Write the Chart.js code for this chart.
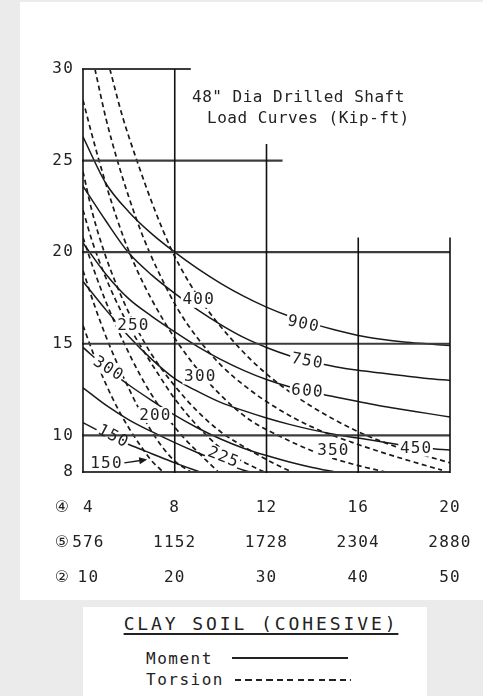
<!DOCTYPE html>
<html>
<head>
<meta charset="utf-8">
<title>48" Dia Drilled Shaft Load Curves</title>
<script src="https://cdn.jsdelivr.net/npm/chart.js@4.4.1/dist/chart.umd.min.js"></script>
<style>
  html, body { margin: 0; padding: 0; }
  body { width: 483px; height: 696px; background: #ebebeb; position: relative; overflow: hidden;
         font-family: "DejaVu Sans Mono", monospace; color: #222; }
  #panel { position: absolute; left: 20px; top: 2px; width: 463px; height: 598px; background: #fff; }
  #legendBox { position: absolute; left: 83px; top: 607px; width: 344px; height: 89px; background: #fff; }
  #legendBox .head { position: absolute; left: 0; top: 6px; width: 100%; padding-left: 12px; box-sizing: border-box;
         text-align: center; font-size: 18px; line-height: 21px; letter-spacing: 2.9px;
         text-decoration: underline; text-decoration-thickness: 1.5px; text-underline-offset: 3px; }
  #legendBox .row { position: absolute; left: 63px; font-size: 16px; line-height: 18px; letter-spacing: 1.5px; }
  #legendBox .row.m { top: 43px; }
  #legendBox .row.t { top: 64px; }
  #legendBox .swatch { position: absolute; height: 2px; width: 116px; }
  #legendBox .swatch.m { left: 149px; top: 50px; background: #222; }
  #legendBox .swatch.t { left: 152px; top: 72px; background: repeating-linear-gradient(90deg, #222 0 6px, transparent 6px 10.5px); }
</style>
</head>
<body>
<div id="panel"><canvas id="loadCurves" width="463" height="598"></canvas></div>
<div id="legendBox">
  <div class="head">CLAY SOIL (COHESIVE)</div>
  <div class="row m">Moment</div><div class="swatch m"></div>
  <div class="row t">Torsion</div><div class="swatch t"></div>
</div>
<script>
// axis ticks
const yTicks = [8, 10, 15, 20, 25, 30];
const xTicks = [4, 8, 12, 16, 20];
const rowFour = ["4", "8", "12", "16", "20"];
const rowFive = ["576", "1152", "1728", "2304", "2880"];
const rowTwo = ["10", "20", "30", "40", "50"];
const rowMarks = ["④", "⑤", "②"];

// stepped grid (value, where the line stops)
const hLines = [30, 25, 20, 15, 10, 8];
const hLineEnd = [8.7, 12.7, 20, 20, 20, 20];
const vLines = [4, 8, 12, 16, 20];
const vLineTop = [30, 30, 25.9, 20.8, 20.8];

// moment curves (solid), [x, y]
const moment900 = [[4,26.3],[5,23.75],[6,22.2],[7,21.0],[8,20.0],[9,19.1],[10,18.3],[11,17.6],[12,17.0],[13,16.5],[14,16.1],[15,15.75],[16,15.45],[17,15.25],[18,15.1],[19,15.0],[20,14.9]];
const moment750 = [[4,23.6],[5,21.7],[6,19.95],[7,18.75],[8,17.75],[9,16.85],[10,16.05],[11,15.35],[12,14.8],[13,14.35],[14,14.0],[15,13.75],[16,13.55],[17,13.4],[18,13.25],[19,13.1],[20,13.0]];
const moment600 = [[4,20.5],[5,18.8],[6,17.45],[7,16.5],[8,15.65],[9,14.85],[10,14.15],[11,13.55],[12,13.05],[13,12.65],[14,12.35],[15,12.1],[16,11.85],[17,11.6],[18,11.4],[19,11.2],[20,11.0]];
const moment450 = [[4,18.4],[5,16.85],[6,15.4],[7,14.15],[8,13.1],[9,12.4],[10,11.8],[11,11.35],[12,10.95],[13,10.6],[14,10.3],[15,10.05],[16,9.85],[17,9.65],[18,9.45],[19,9.3],[20,9.2]];
const moment300 = [[4,14.8],[5,13.7],[6,12.75],[7,11.9],[8,11.1],[9,10.4],[10,9.8],[11,9.3],[12,8.9],[13,8.55],[14,8.25],[15,8.0]];
const moment225 = [[4,12.6],[5,11.65],[6,10.85],[7,10.2],[8,9.6],[9,9.05],[10,8.55],[11,8.1],[11.3,8.0]];
const moment150 = [[4,10.7],[5,10.05],[6,9.5],[7,9.0],[8,8.5],[9.1,8.0]];

// torsion curves (dashed), lowest to highest
const torsion1 = [[4,16.0],[4.5,14.3],[5,12.8],[5.5,11.5],[6,10.4],[6.5,9.45],[7,8.6],[7.5,8.0]];
const torsion2 = [[4,19.0],[4.5,17.1],[5,15.4],[5.5,13.9],[6,12.55],[6.5,11.3],[7,10.2],[7.5,9.3],[8,8.6],[8.7,8.0]];
const torsion3 = [[4,20.8],[4.4,19.3],[4.9,17.6],[5.4,16.1],[5.9,14.75],[6.4,13.5],[7,12.2],[7.6,11.1],[8.3,10.0],[9,9.1],[9.9,8.0]];
const torsion4 = [[4,22.3],[4.4,20.6],[4.9,18.9],[5.4,17.45],[5.9,16.2],[6.5,14.9],[7.2,13.5],[8,12.0],[9,10.5],[10,9.3],[11,8.55],[11.9,8.0]];
const torsion5 = [[4,24.4],[4.4,22.2],[4.9,20.1],[5.4,18.4],[5.9,16.95],[6.4,15.7],[7,14.4],[8,12.7],[9,11.3],[10,10.2],[11.26,9.2],[12.2,8.55],[13.1,8.0]];
const torsion6 = [[4,28.3],[4.35,26.6],[4.7,25.0],[5.2,22.9],[5.8,20.7],[6.4,18.9],[7,17.4],[8,15.3],[9,13.6],[10,12.2],[11.26,10.85],[12.5,10.0],[14.2,9.05],[15.7,8.45],[17.2,8.0]];
const torsion7 = [[4.52,30],[5,27.3],[5.5,25.0],[6,23.0],[6.6,20.9],[7.3,18.9],[8.13,16.9],[9,15.3],[10,13.85],[11.26,12.5],[12.5,11.45],[14,10.45],[16,9.5],[18,8.7],[19.65,8.1]];
const torsion8 = [[5.17,30],[5.7,27.5],[6.35,25.0],[7.1,22.4],[7.87,20.1],[8.6,18.4],[9.4,16.9],[10.3,15.5],[11.26,14.2],[12.5,12.85],[14,11.55],[16,10.2],[17.6,9.4],[20,8.5]];

// curve labels, placed in data units
const curveLabels = ["900", "750", "600", "450", "350", "300", "400", "250", "300", "200", "150", "225", "150"];
const labelX = [13.59, 13.76, 13.76, 18.5, 14.89, 9.09, 9.02, 6.17, 5.09, 7.13, 5.3, 10.1, 5.0];
const labelY = [16.09, 14.07, 12.43, 9.28, 9.2, 13.22, 17.4, 16.03, 13.66, 11.11, 9.97, 8.82, 8.49];
const labelTilt = [12, 10, 5, 0, 0, 0, 0, 0, 32, 0, 28, 22, 0];
const arrowFrom = [5.8, 8.5];
const arrowTo = [6.8, 8.68];

const titleLines = ['48" Dia Drilled Shaft', "Load Curves (Kip-ft)"];

const FONT = '"DejaVu Sans Mono", "Liberation Mono", monospace';
const INK = "#1a1a1a";

const toPts = (arr) => arr.map(([x, y]) => ({ x, y }));

const solid = (arr) => ({
  data: toPts(arr), borderColor: INK, borderWidth: 1.5, fill: false,
  cubicInterpolationMode: "monotone", pointRadius: 0
});
const dashed = (arr) => ({
  data: toPts(arr), borderColor: INK, borderWidth: 1.7, borderDash: [5, 3.5], fill: false,
  cubicInterpolationMode: "monotone", pointRadius: 0
});

// first column sits a little in from the axis so it clears the circled marks
const nudge = (s, i) => (i === 0 ? " " + s : s);

const sheetPlugin = {
  id: "sheetPlugin",
  beforeDraw(chart) {
    chart.ctx.letterSpacing = "1.2px";
  },
  afterDatasetsDraw(chart) {
    const { ctx, chartArea } = chart;
    const xs = chart.scales.x, ys = chart.scales.y;
    const px = (v) => xs.getPixelForValue(v);
    const py = (v) => ys.getPixelForValue(v);

    ctx.save();
    ctx.font = `16px ${FONT}`;
    ctx.letterSpacing = "1.2px";

    // white gaps behind the curve labels
    ctx.fillStyle = "#fff";
    curveLabels.forEach((txt, i) => {
      const w = ctx.measureText(txt).width + 2;
      ctx.save();
      ctx.translate(px(labelX[i]), py(labelY[i]));
      ctx.rotate(labelTilt[i] * Math.PI / 180);
      ctx.fillRect(-w / 2, -8, w, 16);
      ctx.restore();
    });

    // stepped grid
    ctx.lineCap = "butt";
    ctx.strokeStyle = "#3c3c3c";
    ctx.lineWidth = 2.2;
    hLines.forEach((v, i) => {
      ctx.beginPath();
      ctx.moveTo(px(4) - 1, py(v));
      ctx.lineTo(px(hLineEnd[i]), py(v));
      ctx.stroke();
    });
    ctx.strokeStyle = "#111";
    ctx.lineWidth = 1.6;
    vLines.forEach((v, i) => {
      ctx.beginPath();
      ctx.moveTo(px(v), py(8) + 1);
      ctx.lineTo(px(v), py(vLineTop[i]));
      ctx.stroke();
    });

    // label text
    ctx.fillStyle = "#222";
    ctx.textAlign = "center";
    ctx.textBaseline = "middle";
    curveLabels.forEach((txt, i) => {
      ctx.save();
      ctx.translate(px(labelX[i]), py(labelY[i]));
      ctx.rotate(labelTilt[i] * Math.PI / 180);
      ctx.fillText(txt, 0.6, 0.5);
      ctx.restore();
    });

    // arrow for the lower 150 curve
    const ax0 = px(arrowFrom[0]), ay0 = py(arrowFrom[1]);
    const ax1 = px(arrowTo[0]), ay1 = py(arrowTo[1]);
    const ang = Math.atan2(ay1 - ay0, ax1 - ax0);
    ctx.strokeStyle = INK;
    ctx.lineWidth = 1.4;
    ctx.beginPath();
    ctx.moveTo(ax0, ay0);
    ctx.lineTo(ax1 - 5 * Math.cos(ang), ay1 - 5 * Math.sin(ang));
    ctx.stroke();
    ctx.fillStyle = INK;
    ctx.beginPath();
    ctx.moveTo(ax1, ay1);
    ctx.lineTo(ax1 - 8 * Math.cos(ang) + 3.5 * Math.sin(ang), ay1 - 8 * Math.sin(ang) - 3.5 * Math.cos(ang));
    ctx.lineTo(ax1 - 8 * Math.cos(ang) - 3.5 * Math.sin(ang), ay1 - 8 * Math.sin(ang) + 3.5 * Math.cos(ang));
    ctx.closePath();
    ctx.fill();

    // title block
    ctx.fillStyle = "#222";
    ctx.textAlign = "left";
    ctx.textBaseline = "alphabetic";
    ctx.letterSpacing = "0.5px";
    ctx.fillText(titleLines[0], chartArea.left + 109, chartArea.top + 33);
    ctx.fillText(titleLines[1], chartArea.left + 124, chartArea.top + 54);

    // circled row markers beside the x tick rows
    ctx.letterSpacing = "0px";
    ctx.font = `16px "DejaVu Sans", "Noto Sans CJK JP", sans-serif`;
    ctx.textAlign = "center";
    ctx.textBaseline = "middle";
    rowMarks.forEach((m, i) => {
      ctx.fillText(m, 42, chartArea.bottom + 36 + i * 35);
    });
    ctx.restore();
  }
};

Chart.defaults.font.family = FONT;

new Chart(document.getElementById("loadCurves"), {
  type: "line",
  data: {
    datasets: [
      solid(moment900), solid(moment750), solid(moment600), solid(moment450),
      solid(moment300), solid(moment225), solid(moment150),
      dashed(torsion1), dashed(torsion2), dashed(torsion3), dashed(torsion4),
      dashed(torsion5), dashed(torsion6), dashed(torsion7), dashed(torsion8)
    ]
  },
  options: {
    responsive: false,
    animation: false,
    devicePixelRatio: 1,
    layout: { padding: { top: 67, right: 33, left: 0, bottom: 0 } },
    elements: { point: { radius: 0 }, line: { tension: 0.4 } },
    scales: {
      x: {
        type: "linear", min: 4, max: 20,
        grid: { display: false, drawTicks: false, tickLength: 0 },
        border: { display: false },
        afterBuildTicks: (s) => { s.ticks = xTicks.map(v => ({ value: v })); },
        afterFit: (s) => { s.height = 128; s.paddingLeft = 0; s.paddingRight = 0; },
        ticks: {
          autoSkip: false, maxRotation: 0, minRotation: 0, padding: 18, color: "#222",
          font: { family: FONT, size: 16, lineHeight: "35px" },
          callback: (v, i) => [nudge(rowFour[i], i), nudge(rowFive[i], i), nudge(rowTwo[i], i)]
        }
      },
      y: {
        type: "linear", min: 8, max: 30,
        grid: { display: false, drawTicks: false, tickLength: 0 },
        border: { display: false },
        afterBuildTicks: (s) => { s.ticks = yTicks.map(v => ({ value: v })); },
        afterFit: (s) => { s.width = 63; },
        ticks: { padding: 9, color: "#222", font: { family: FONT, size: 16 } }
      }
    },
    plugins: { legend: { display: false }, tooltip: { enabled: false } }
  },
  plugins: [sheetPlugin]
});
</script>
</body>
</html>
